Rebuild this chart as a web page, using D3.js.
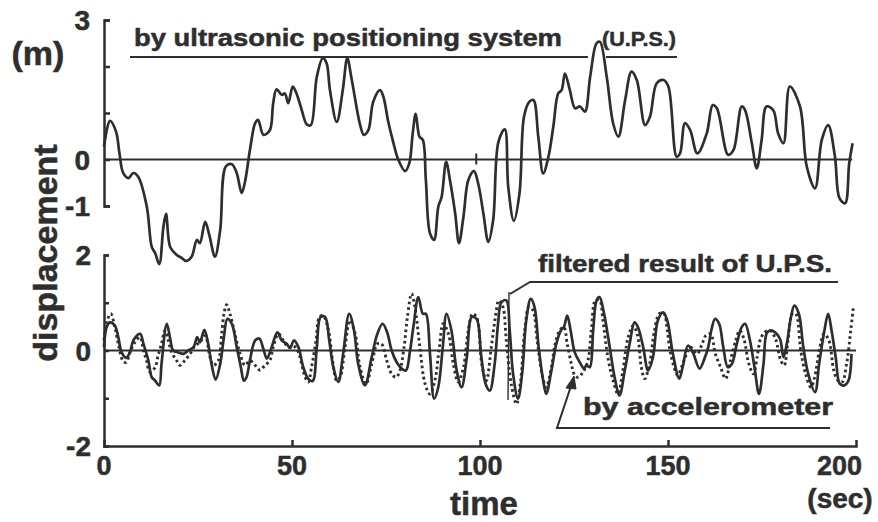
<!DOCTYPE html>
<html>
<head>
<meta charset="utf-8">
<script src="https://cdn.jsdelivr.net/npm/d3@7"></script>
<style>
  html, body { margin: 0; padding: 0; background: #fff; }
  svg { display: block; }
  text { font-family: "Liberation Sans", Arial, Helvetica, sans-serif; font-weight: bold; fill: #2e2e2e; stroke: #2e2e2e; stroke-width: 0.5px; }
</style>
</head>
<body>
<svg id="chart" width="878" height="522"></svg>
<script>
// Displacement measured by the ultrasonic positioning system (U.P.S.), metres
const upsTime = [0,1.6,3.2,4.1,5.1,6.5,7.8,9.1,11.4,12.7,13.6,14.7,15.8,16.5,17.6,19.3,20.7,21.8,23.3,24.7,25.5,26.9,28.0,29.5,30.9,32.4,34.0,35.3,36.6,37.5,38.8,40.2,41.0,42.4,44.1,45.0,45.9,47.3,48.1,49.0,50.2,51.2,52.6,53.9,55.0,56.6,58.2,59.2,60.1,61.9,63.5,64.7,65.9,68.1,69.1,70.3,71.6,73.4,74.3,75.6,76.9,78.3,80.1,81.2,82.1,82.9,83.9,84.8,85.6,86.7,87.8,88.9,89.8,91.0,92.0,93.4,94.4,95.6,96.9,98.4,99.5,100.9,102.2,103.5,104.9,106.6,107.5,109.0,110.5,111.7,113.1,114.2,115.5,116.8,118.2,119.5,120.8,121.7,122.6,123.9,125.3,126.6,127.9,129.3,131.0,131.9,133.7,135.4,136.8,138.6,140.3,141.7,143.9,145.2,147.0,148.8,150.1,152.3,153.2,154.5,155.9,157.8,160.3,161.9,163.0,166.0,167.4,169.6,170.5,172.3,173.6,174.9,176.2,178.0,179.3,180.7,182.4,185.1,186.9,189.1,190.9,192.6,194.4,195.6,197.1,198.2,199.1];
const upsDisp = [0.28,0.83,0.60,0.14,-0.29,-0.40,-0.29,-0.37,-1.02,-1.88,-2.01,-2.25,-1.45,-1.17,-1.88,-2.05,-2.12,-2.18,-2.09,-1.73,-1.80,-1.34,-1.62,-2.09,-1.52,-0.15,-0.10,-0.29,-0.72,-0.48,0.20,0.78,0.85,0.53,0.63,1.21,1.51,1.39,1.42,1.21,1.57,1.42,1.06,0.76,0.74,1.78,2.18,2.07,1.49,0.81,1.49,2.18,1.71,0.75,0.53,0.63,1.24,1.49,1.35,0.81,0.38,-0.01,-0.25,-0.08,0.56,0.98,0.49,0.42,-0.44,-1.59,-1.73,-1.02,-0.80,-0.05,-0.44,-1.16,-1.80,-1.23,-0.44,-0.25,-0.51,-1.16,-1.77,-1.30,0.38,0.65,-0.58,-1.32,-0.73,0.92,1.24,1.28,0.49,-0.30,0.06,0.71,1.42,1.49,1.85,1.49,1.10,1.14,1.03,1.78,2.50,2.53,1.78,0.78,0.49,1.28,1.89,1.71,0.74,0.92,1.64,1.71,1.57,0.06,0.13,0.78,0.63,0.13,0.56,1.17,1.10,0.10,0.20,1.14,1.06,0.35,-0.19,0.42,1.14,1.06,0.56,0.35,1.57,1.14,-0.15,-0.62,0.42,0.74,0.06,-0.83,-0.94,-0.08,0.35];

// Filtered result of U.P.S. (solid line)
const filtTime = [0,0.7,1.6,2.9,3.8,4.7,5.9,6.9,7.8,9.6,10.5,11.8,12.7,13.6,14.7,15.3,16.7,17.6,18.4,19.8,21.1,22.4,23.8,24.8,25.5,26.7,27.7,28.6,29.7,30.9,31.9,32.8,34.0,35.3,36.4,37.2,37.9,38.8,40.2,41.3,42.4,43.3,44.6,46.1,47.3,48.6,49.5,50.5,51.7,53.0,54.3,55.5,56.6,57.6,58.8,59.9,61.0,62.3,63.6,65.2,66.5,67.6,69.4,71.2,72.7,74.1,75.3,76.5,77.8,79.2,80.3,81.4,82.4,83.6,84.8,85.6,86.7,87.8,88.9,90.1,91.1,92.4,93.8,95.1,96.5,97.8,99.1,100.3,101.5,102.6,103.9,104.8,105.7,107.0,107.9,108.8,110.1,111.2,112.3,113.5,114.5,115.6,116.8,117.6,119.0,120.3,121.5,122.3,123.2,124.1,125.2,126.5,127.7,128.3,129.2,130.1,131.0,131.8,133.0,134.5,135.8,137.1,138.5,139.8,141.1,142.0,143.4,144.7,146.0,147.3,148.7,149.8,151.3,153.0,153.9,155.3,156.6,158.4,159.7,160.7,161.6,162.5,163.6,164.7,165.9,167.0,168.3,169.6,170.5,171.8,173.0,174.2,175.4,176.2,177.1,178.5,179.8,180.7,181.6,182.7,183.6,184.8,186.0,187.3,189.1,190.2,191.6,192.6,193.5,194.6,195.7,196.9,198.0,198.8];
const filtDisp = [0.07,0.49,0.59,0.52,0.28,-0.04,-0.15,-0.04,0.21,0.35,0.14,-0.21,-0.56,-0.63,-0.73,-0.28,0.56,0.25,0,-0.04,-0.07,0,0.07,0.28,0.17,0.43,0.14,-0.28,-0.61,-0.28,0.28,0.66,0.56,0.07,-0.35,-0.63,-0.56,-0.21,0.21,0.25,0.03,-0.17,0.07,0.38,0.21,0.14,0.05,0.21,0.07,-0.35,-0.59,-0.64,0.07,0.70,0.70,0.21,-0.35,-0.66,-0.07,0.77,0.42,-0.28,-0.73,-0.14,0.35,0.56,0.38,0,-0.24,-0.38,-0.42,0,0.56,1.12,0.77,0.77,-0.07,-1.01,-0.77,0.07,0.77,0.42,-0.42,-0.77,-0.14,0.70,0.66,-0.10,-0.70,-0.84,-0.28,0.56,1.01,1.05,0.42,-0.49,-1.01,-0.49,0.63,1.08,0.91,0.07,-0.63,-0.91,-0.42,0.14,0.42,0.49,0.73,0.42,-0.04,-0.24,-0.38,-0.31,-0.35,0.42,1.05,1.12,0.77,0.07,-0.56,-0.94,-0.42,0.14,0.59,0.49,0.07,-0.42,-0.14,0.63,0.80,0.63,-0.07,-0.59,-0.35,0.10,-0.04,-0.38,-0.17,0.07,0.45,0.66,0.56,0.07,-0.35,-0.28,0.14,0.49,0.56,0.21,-0.35,-0.91,-0.28,0.35,0.42,0.38,0.24,-0.14,0.14,0.70,0.94,0.77,0.07,-0.49,-0.87,-0.28,0.42,0.77,0.42,-0.14,-0.70,-0.73,-0.63,-0.07];

// Displacement by accelerometer (dotted line)
const accTime = [0,0.7,1.8,2.9,3.8,5.0,5.9,6.9,8.2,9.6,10.5,11.3,12.2,13.6,14.4,15.3,16.2,17.1,18.0,19.3,20.2,21.5,22.9,24.2,25.5,26.9,28.2,29.1,30.4,31.3,31.9,32.6,33.5,34.8,36.2,37.5,38.8,40.2,41.5,42.8,44.1,45.0,46.4,47.7,49.0,50.3,51.5,53.5,54.3,55.2,56.4,57.3,58.3,59.7,60.8,61.9,62.8,64.1,65.4,66.8,68.1,69.7,71.2,72.7,73.8,75.2,76.5,77.7,78.7,79.8,80.7,81.8,82.7,84.0,85.4,86.7,88.0,89.2,90.2,91.6,92.9,94.2,95.6,96.9,98.0,99.1,100.5,101.7,103.0,104.1,105.0,106.1,107.0,108.3,109.7,110.8,111.9,113.0,114.1,115.2,116.5,117.6,119.0,120.0,121.2,122.3,123.2,124.3,125.2,126.1,127.4,128.7,129.6,130.7,131.8,132.7,134.0,135.4,136.7,138.0,139.4,140.7,141.8,142.9,143.8,145.1,146.4,147.7,148.9,149.8,150.7,152.6,153.6,154.6,156.0,157.7,159.1,160.0,161.3,162.6,164.0,165.3,166.6,168.0,169.1,170.2,171.5,172.7,173.7,174.6,175.7,177.1,178.6,180.0,180.9,181.9,183.1,184.0,185.3,186.6,188.0,189.0,190.4,191.5,192.8,194.1,195.2,196.3,197.5,198.6,199.3];
const accDisp = [0.21,0.59,0.77,0.49,0.14,-0.21,-0.25,-0.04,0.17,0.28,0,-0.21,-0.45,-0.35,-0.10,0.14,0.42,0.21,-0.04,-0.21,-0.31,-0.21,-0.07,0.10,0.17,0.31,-0.14,-0.31,-0.21,0.35,0.77,0.96,0.77,0.35,-0.07,-0.31,-0.21,-0.31,-0.41,-0.31,-0.21,0.07,0.35,0.21,0.07,0.10,0,-0.56,-0.66,-0.35,0.21,0.70,0.73,0.42,-0.21,-0.63,-0.56,0.07,0.63,0.35,-0.35,-0.70,-0.28,0.14,0.14,-0.21,-0.49,-0.56,-0.42,0.07,0.70,1.19,0.91,0.07,-0.70,-0.91,-0.63,0.07,0.56,0.35,-0.28,-0.66,-0.35,0.42,0.77,0.70,-0.30,-0.63,0.07,0.70,1.05,0.91,0.21,-0.70,-1.12,-0.63,0.42,0.91,0.84,0.21,-0.49,-0.77,-0.35,0.14,0.42,0.49,0.14,-0.28,-0.52,-0.56,-0.45,-0.21,0.42,1.05,1.05,0.63,-0.14,-0.63,-0.91,-0.42,0.28,0.52,0.35,-0.35,-0.59,-0.28,0.42,0.77,0.78,0.42,-0.07,-0.52,-0.35,-0.14,0.07,-0.07,0.14,0.31,0.35,-0.07,-0.35,-0.59,-0.21,0.21,0.42,0.24,-0.28,-0.49,-0.14,0.24,0.38,0.42,0.24,-0.21,-0.31,0.21,0.77,0.77,0,-0.49,-0.77,-0.56,0.07,0.35,0.21,-0.42,-0.63,-0.66,-0.28,0.42,0.91];

// Axis ticks and their labels
const timeTicks = [0, 50, 100, 150, 200];
const topTickMarks = [3, 2, 1, 0, -1];
const topTickLabels = [3, 0, -1];
const bottomTickMarks = [2, 1, 0, -1, -2];
const bottomTickLabels = [2, 0, -2];
const upsTimeMarks = [99];

const ink = "#2e2e2e";
const svg = d3.select("#chart");

const x = d3.scaleLinear().domain([0, 200]).range([104, 856]);
const yTop = d3.scaleLinear().domain([-1, 3]).range([206, 20]);
const yBot = d3.scaleLinear().domain([-2, 2]).range([446, 255]);

function styleAxis(g, w) {
  g.selectAll("path, line").attr("stroke", ink).attr("stroke-width", w);
  g.selectAll("text").remove();
}

// Upper panel: bracket-shaped y axis
svg.append("g").attr("transform", `translate(${x(0)},0)`)
  .call(d3.axisRight(yTop).tickValues(topTickMarks).tickSize(6).tickSizeOuter(6))
  .call(g => styleAxis(g, 2.5));

// Lower panel: y axis and time axis
svg.append("g").attr("transform", `translate(${x(0)},0)`)
  .call(d3.axisRight(yBot).tickValues(bottomTickMarks).tickSize(5).tickSizeOuter(5))
  .call(g => styleAxis(g, 2.5));
svg.append("g").attr("transform", `translate(0,${yBot(-2)})`)
  .call(d3.axisTop(x).tickValues(timeTicks.slice(1, -1)).tickSize(6).tickSizeOuter(6))
  .call(g => styleAxis(g, 2.5));

// Zero reference lines
svg.append("line").attr("x1", x(0)).attr("x2", x(199)).attr("y1", yTop(0)).attr("y2", yTop(0))
  .attr("stroke", ink).attr("stroke-width", 2);
svg.append("line").attr("x1", x(0)).attr("x2", x(200)).attr("y1", yBot(0)).attr("y2", yBot(0))
  .attr("stroke", ink).attr("stroke-width", 2);
svg.selectAll("line.upsmark").data(upsTimeMarks).enter().append("line")
  .attr("x1", d => x(d)).attr("x2", d => x(d))
  .attr("y1", yTop(0) - 6).attr("y2", yTop(0) + 5)
  .attr("stroke", ink).attr("stroke-width", 2);

// Data lines
const curve = d3.curveCatmullRom.alpha(0.5);
const lineTop = d3.line().x(d => x(d[0])).y(d => yTop(d[1])).curve(curve);
const lineBot = d3.line().x(d => x(d[0])).y(d => yBot(d[1])).curve(curve);

svg.append("path").datum(d3.zip(upsTime, upsDisp)).attr("d", lineTop)
  .attr("fill", "none").attr("stroke", ink).attr("stroke-width", 2.7).attr("stroke-linejoin", "round");

svg.append("path").datum(d3.zip(accTime, accDisp)).attr("d", lineBot)
  .attr("fill", "none").attr("stroke", ink).attr("stroke-width", 2.9)
  .attr("stroke-dasharray", "2.6,3");

svg.append("path").datum(d3.zip(filtTime, filtDisp)).attr("d", lineBot)
  .attr("fill", "none").attr("stroke", ink).attr("stroke-width", 2.7).attr("stroke-linejoin", "round");

// Tick labels
svg.selectAll("text.yt").data(topTickLabels).enter().append("text")
  .attr("x", 90).attr("y", d => yTop(d)).attr("dy", "0.36em")
  .attr("text-anchor", "end").attr("font-size", 28).text(d => d);
svg.selectAll("text.yb").data(bottomTickLabels).enter().append("text")
  .attr("x", 91).attr("y", d => yBot(d)).attr("dy", "0.36em")
  .attr("text-anchor", "end").attr("font-size", 28).text(d => d);
svg.selectAll("text.xt").data(timeTicks).enter().append("text")
  .attr("x", d => d === 200 ? x(d) + 6 : x(d)).attr("y", 475)
  .attr("text-anchor", d => d === 200 ? "end" : "middle")
  .attr("font-size", 27).text(d => d);

// Axis titles
svg.append("text").attr("x", 38).attr("y", 65).attr("text-anchor", "middle")
  .attr("font-size", 34).text("(m)");
svg.append("text").attr("transform", "translate(57,253) rotate(-90)")
  .attr("text-anchor", "middle").attr("font-size", 34).text("displacement");
svg.append("text").attr("x", 484).attr("y", 515).attr("text-anchor", "middle")
  .attr("font-size", 33).text("time");
svg.append("text").attr("x", 840).attr("y", 508).attr("text-anchor", "middle")
  .attr("font-size", 28).text("(sec)");

// Series annotations with underlines and leaders
const note = (t, px, py, size, len) => svg.append("text").attr("x", px).attr("y", py)
  .attr("font-size", size).attr("textLength", len).attr("lengthAdjust", "spacingAndGlyphs").text(t);
const rule = pts => svg.append("path").attr("d", d3.line()(pts))
  .attr("fill", "none").attr("stroke", ink).attr("stroke-width", 2);

note("by ultrasonic positioning system", 134, 46, 24, 428);
note("(U.P.S.)", 602, 46, 20, 74);
rule([[130, 57], [588, 57]]);
rule([[606, 57], [677, 57]]);

note("filtered result of U.P.S.", 538, 272, 24, 294);
rule([[838, 282], [530, 282], [510, 294]]);
svg.append("path").attr("d", d3.line()([[509, 292], [508, 400]]))
  .attr("stroke", ink).attr("stroke-width", 1.4);

note("by accelerometer", 583, 415, 24, 250);
rule([[830, 428], [557, 428], [571, 386]]);
svg.append("path").attr("d", d3.line()([[574, 376], [566, 388], [576, 389]]) + "Z")
  .attr("fill", ink).attr("stroke", ink).attr("stroke-width", 1);
</script>
</body>
</html>
